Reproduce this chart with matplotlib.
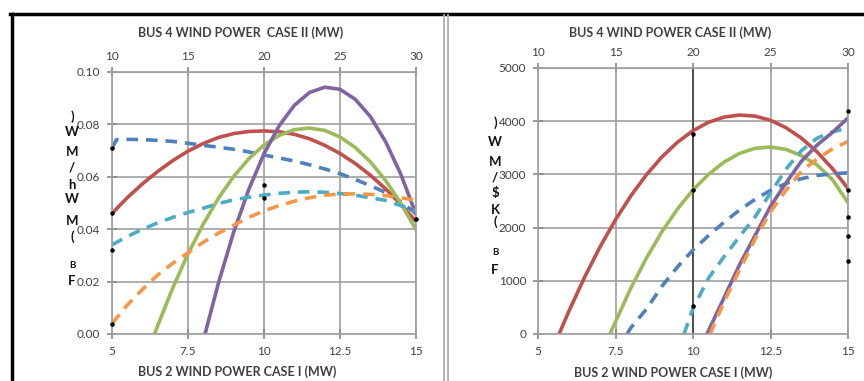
import matplotlib.pyplot as plt
import matplotlib.lines as mlines

plt.rcParams['font.family'] = ['Lato', 'DejaVu Sans']

# ---- left chart: BF ($/MWh) vs wind power ----
red_l_x = [5, 5.5, 6, 6.5, 7, 7.5, 8, 8.5, 9, 9.5, 10, 10.5, 11, 11.5, 12, 12.5, 13, 13.5, 14, 14.5, 15]
red_l_y = [0.046, 0.052, 0.0573, 0.062, 0.0662, 0.0698, 0.0727, 0.075, 0.0765, 0.0773, 0.0775,
           0.0772, 0.0762, 0.0745, 0.072, 0.0689, 0.0651, 0.0606, 0.0554, 0.0495, 0.043]

blue_l_x = [5, 5.15, 5.5, 6, 6.5, 7, 7.5, 8, 8.5, 9, 9.5, 10, 10.5, 11, 11.5, 12, 12.5, 13, 13.5, 14, 14.5, 15]
blue_l_y = [0.071, 0.0742, 0.0743, 0.0742, 0.0739, 0.0735, 0.0728, 0.072, 0.0713, 0.0705, 0.0695,
            0.0683, 0.0672, 0.066, 0.0646, 0.063, 0.0612, 0.059, 0.0566, 0.054, 0.0505, 0.046]

green_l_x = [6.4, 6.5, 7, 7.5, 8, 8.5, 9, 9.5, 10, 10.5, 11, 11.5, 12, 12.5, 13, 13.5, 14, 14.5, 15]
green_l_y = [0.0, 0.0031, 0.0176, 0.0306, 0.0419, 0.0518, 0.0601, 0.0669, 0.0721, 0.0758, 0.078,
             0.0786, 0.0777, 0.0752, 0.0712, 0.0657, 0.0586, 0.0499, 0.0398]

purple_l_x = [8.06, 8.5, 9, 9.5, 10, 10.5, 11, 11.5, 12, 12.5, 13, 13.5, 14, 14.5, 15]
purple_l_y = [0.0, 0.0194, 0.0388, 0.0552, 0.0688, 0.0795, 0.0873, 0.0922, 0.0942, 0.0934, 0.0896,
              0.083, 0.0734, 0.061, 0.0457]

cyan_l_x = [5, 5.5, 6, 6.5, 7, 7.5, 8, 8.5, 9, 9.5, 10, 10.5, 11, 11.5, 12, 12.5, 13, 13.5, 14, 14.5, 15]
cyan_l_y = [0.034, 0.0372, 0.040, 0.0424, 0.0445, 0.0464, 0.048, 0.0498, 0.0512, 0.0522, 0.053,
            0.0537, 0.0541, 0.0543, 0.0541, 0.0536, 0.053, 0.052, 0.051, 0.049, 0.047]

orange_l_x = [5, 5.5, 6, 6.5, 7, 7.5, 8, 8.5, 9, 9.5, 10, 10.5, 11, 11.5, 12, 12.5, 13, 13.5, 14, 14.5, 15]
orange_l_y = [0.004, 0.011, 0.017, 0.0225, 0.027, 0.031, 0.035, 0.0385, 0.0415, 0.0445, 0.047,
              0.049, 0.0507, 0.052, 0.053, 0.0534, 0.0535, 0.0533, 0.0528, 0.052, 0.051]

dots_l_x = [5, 5, 5, 5, 15, 10, 10]
dots_l_y = [0.046, 0.032, 0.004, 0.071, 0.044, 0.057, 0.052]

# ---- right chart: BF (K$/MW) vs wind power ----
red_r_x = [5.68, 6, 6.5, 7, 7.5, 8, 8.5, 9, 9.5, 10, 10.5, 11, 11.5, 12, 12.5, 13, 13.5, 14, 14.5, 15]
red_r_y = [0, 433, 1064, 1636, 2148, 2601, 2995, 3330, 3605, 3822, 3979, 4077, 4116, 4096, 4017,
           3878, 3681, 3424, 3108, 2733]

green_r_x = [7.32, 7.5, 8, 8.5, 9, 9.5, 10, 10.5, 11, 11.5, 12, 12.5, 13, 13.5, 14, 14.5, 15]
green_r_y = [0, 230, 870, 1430, 1925, 2350, 2710, 3000, 3230, 3395, 3490, 3515, 3470, 3350, 3180,
             2900, 2470]

blue_r_x = [7.87, 8, 8.5, 9, 9.5, 10, 10.5, 11, 11.5, 12, 12.5, 13, 13.5, 14, 14.5, 15]
blue_r_y = [0, 120, 470, 900, 1260, 1580, 1850, 2100, 2330, 2530, 2700, 2830, 2920, 2980, 3010, 3030]

cyan_r_x = [9.71, 10, 10.5, 11, 11.5, 12, 12.5, 13, 13.5, 14, 14.5, 15]
cyan_r_y = [0, 480, 1050, 1450, 1830, 2200, 2650, 3100, 3450, 3680, 3800, 3870]

purple_r_x = [10.45, 11, 11.5, 12, 12.5, 13, 13.5, 14, 14.5, 15]
purple_r_y = [0, 680, 1300, 1850, 2400, 2840, 3250, 3550, 3790, 4060]

orange_r_x = [10.55, 11, 11.5, 12, 12.5, 13, 13.5, 14, 14.5, 15]
orange_r_y = [0, 600, 1200, 1780, 2300, 2700, 3060, 3290, 3480, 3620]

dots_r_x = [10, 10, 10, 15, 15, 15, 15, 15]
dots_r_y = [3750, 2700, 530, 4200, 2700, 2200, 1850, 1380]

bottom_ticks = [5, 7.5, 10, 12.5, 15]
bottom_labels = ['5', '7.5', '10', '12.5', '15']
top_ticks = [10, 15, 20, 25, 30]
left_yticks = [0.00, 0.02, 0.04, 0.06, 0.08, 0.10]
right_yticks = [0, 1000, 2000, 3000, 4000, 5000]

top_title_l = 'BUS 4 WIND POWER  CASE II (MW)'
top_title_r = 'BUS 4 WIND POWER CASE II (MW)'
bottom_title = 'BUS 2 WIND POWER CASE I (MW)'
ylab_l = [')', 'W', 'M', '/', 'h', 'W', 'M', '(', 'B', 'F']
ylab_r = [')', 'W', 'M', '/', '$', 'K', '(', 'B', 'F']

RED, GREEN, PURPLE = '#C0504D', '#9BBB59', '#8064A2'
BLUE, CYAN, ORANGE = '#4F81BD', '#4BACC6', '#F79646'
GRID = '#a0a0a0'
TXT = '#404040'
dash = (0, (3.2, 2.2))

W, H = 864, 381
fig = plt.figure(figsize=(8.64, 3.81), dpi=100)


def px_axes(x0, x1, ytop, ybot):
    return fig.add_axes([x0 / W, (H - ybot) / H, (x1 - x0) / W, (ybot - ytop) / H])


def style(ax, yticks, yfmt, ylim):
    ax.set_xlim(5, 15)
    ax.set_ylim(*ylim)
    ax.set_xticks(bottom_ticks)
    ax.set_xticklabels(bottom_labels)
    ax.set_yticks(yticks)
    ax.set_yticklabels([yfmt(v) for v in yticks])
    ax.grid(True, color=GRID, lw=1.2)
    for s in ax.spines.values():
        s.set_color(GRID)
        s.set_linewidth(1.2)
    ax.tick_params(direction='inout', length=7, width=1.2, color='#888888',
                   labelsize=8.5, labelcolor=TXT, pad=5)
    ax.set_axisbelow(True)
    ax.set_xlabel(bottom_title, fontsize=9, fontweight='bold', color=TXT, labelpad=6)
    sec = ax.secondary_xaxis('top', functions=(lambda x: 2 * x, lambda x: x / 2))
    sec.set_xticks(top_ticks)
    sec.tick_params(direction='inout', length=7, width=1.2, color='#888888',
                    labelsize=8.5, labelcolor=TXT, pad=4)
    sec.spines['top'].set_color(GRID)
    return sec


lw = 2.6
# left panel
axl = px_axes(112, 416, 72, 334)
style(axl, left_yticks, lambda v: f'{v:.2f}', (0, 0.1))
axl.text(0.424, 1.149, top_title_l, transform=axl.transAxes, ha='center', va='center',
         fontsize=9, fontweight='bold', color=TXT)
axl.xaxis.set_label_coords(0.411, -0.12)
axl.plot(blue_l_x, blue_l_y, color=BLUE, lw=lw, ls=dash)
axl.plot(red_l_x, red_l_y, color=RED, lw=lw)
axl.plot(green_l_x, green_l_y, color=GREEN, lw=lw)
axl.plot(purple_l_x, purple_l_y, color=PURPLE, lw=lw)
axl.plot(cyan_l_x, cyan_l_y, color=CYAN, lw=lw, ls=dash)
axl.plot(orange_l_x, orange_l_y, color=ORANGE, lw=lw, ls=dash)
axl.scatter(dots_l_x, dots_l_y, s=5, color='black', zorder=5, clip_on=False)

# right panel
axr = px_axes(538, 848, 68, 334)
style(axr, right_yticks, lambda v: f'{v:d}', (0, 5000))
axr.text(0.426, 1.1316, top_title_r, transform=axr.transAxes, ha='center', va='center',
         fontsize=9, fontweight='bold', color=TXT)
axr.xaxis.set_label_coords(0.435, -0.12)
axr.axvline(10, color='#404040', lw=1.2, zorder=1)
axr.plot(red_r_x, red_r_y, color=RED, lw=lw)
axr.plot(green_r_x, green_r_y, color=GREEN, lw=lw)
axr.plot(blue_r_x, blue_r_y, color=BLUE, lw=lw, ls=dash)
axr.plot(cyan_r_x, cyan_r_y, color=CYAN, lw=lw, ls=dash)
axr.plot(purple_r_x, purple_r_y, color=PURPLE, lw=lw)
axr.plot(orange_r_x, orange_r_y, color=ORANGE, lw=lw, ls=dash)
axr.scatter(dots_r_x, dots_r_y, s=5, color='black', zorder=5, clip_on=False)

# stacked y-axis label characters
ypos_l = [117, 132, 152, 168, 185, 199, 221, 237, 266, 281]
ypos_r = [123, 142, 162, 177, 193, 210, 222, 252, 270]
for ch, y in zip(ylab_l, ypos_l):
    fig.text(72 / W, 1 - y / H, ch, fontsize=9.5 if ch != 'B' else 7, fontweight='bold',
             color='#111111', ha='center', va='center')
for ch, y in zip(ylab_r, ypos_r):
    fig.text(495 / W, 1 - y / H, ch, fontsize=9.5 if ch != 'B' else 7, fontweight='bold',
             color='#111111', ha='center', va='center')

# frame lines around the panels
fig.add_artist(mlines.Line2D([10 / W, 1], [1 - 14 / H] * 2, color='black', lw=2.5))
fig.add_artist(mlines.Line2D([12 / W] * 2, [0, 1 - 14 / H], color='black', lw=2.5))
fig.add_artist(mlines.Line2D([443.5 / W] * 2, [0, 1 - 15 / H], color='#b0b0b0', lw=1.3))
fig.add_artist(mlines.Line2D([448 / W] * 2, [0, 1 - 15 / H], color='#b0b0b0', lw=1.3))

fig.savefig('out.png', dpi=100)
